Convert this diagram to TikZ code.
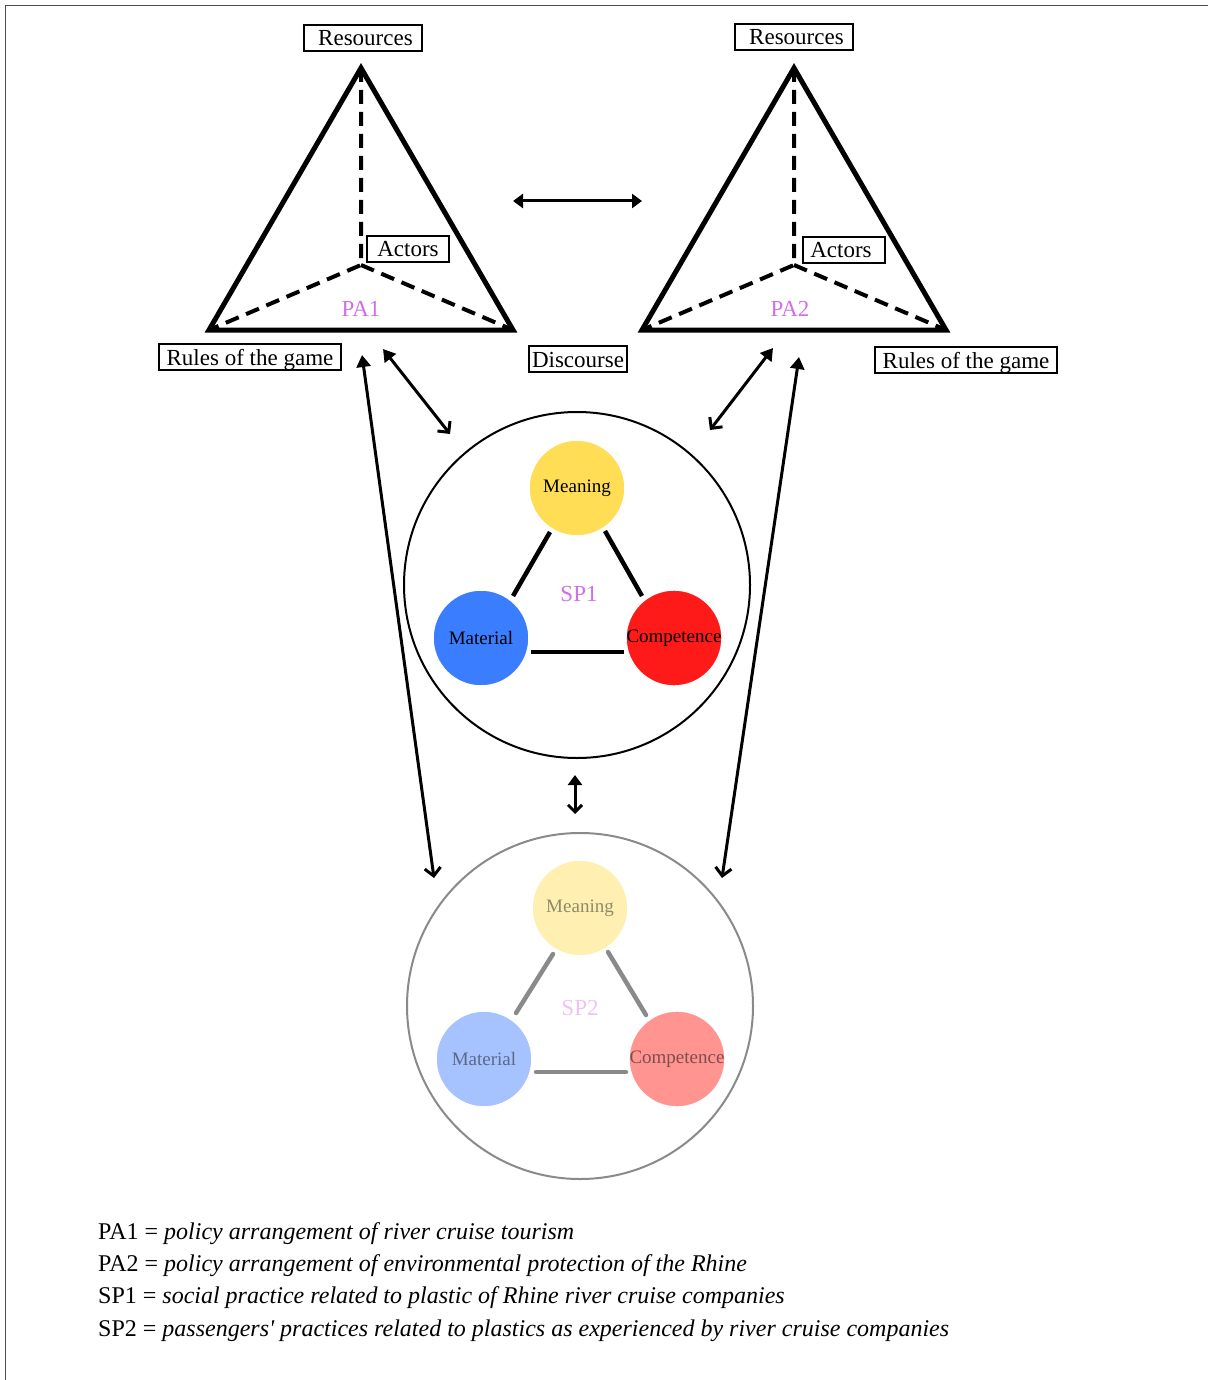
\documentclass[tikz,border=0pt]{standalone}
\usepackage{fontspec}
\setmainfont{Liberation Serif}
\usetikzlibrary{arrows.meta}
\definecolor{pacol}{HTML}{D070E8}
\definecolor{spcol}{HTML}{D070E8}
\definecolor{sp2col}{HTML}{EEC2F6}
\definecolor{meanc}{HTML}{FFDD55}
\definecolor{matc}{HTML}{3B7DFF}
\definecolor{compc}{HTML}{FF1A1A}
\definecolor{meanp}{HTML}{FFF0B2}
\definecolor{matp}{HTML}{A6C3FF}
\definecolor{compp}{HTML}{FF9490}
\definecolor{greyl}{HTML}{8A8A8A}
\tikzset{
  lbl/.style={draw, line width=1.3pt, inner sep=0pt, minimum height=26pt, font=\fontsize{23}{23}\selectfont, text depth=2pt, text height=18pt},
  tri/.style={line width=5pt, line join=miter},
  tridash/.style={line width=4pt, dash pattern=on 14pt off 8pt},
  elem/.style={circle, minimum size=96pt, inner sep=0pt, draw=white, line width=1.5pt, font=\fontsize{19}{19}\selectfont},
  conn/.style={line width=4.5pt},
  conn2/.style={line width=4.5pt, greyl},
  arr/.style={line width=3pt, {Triangle[length=12pt,width=14pt]}-{Straight Barb[length=8pt,width=16pt,line width=3pt]}},
  arrh/.style={line width=3pt, {Triangle[length=10pt,width=14pt]}-{Triangle[length=10pt,width=14pt]}},
  tag/.style={font=\fontsize{23}{23}\selectfont},
  leg/.style={anchor=base west, font=\fontsize{24}{24}\selectfont, inner sep=0pt}
}
\begin{document}
\begin{tikzpicture}[x=1pt,y=-1pt]
\useasboundingbox (0,0) rectangle (1208,1380);
\draw[line width=1.2pt, black!70] (1208,5.5) -- (5.5,5.5) -- (5.5,1380);

% ---------- PA1 ----------
\coordinate (a1t) at (361,68);
\coordinate (a1l) at (209,330);
\coordinate (a1r) at (513,330);
\coordinate (a1c) at (361,265);
\draw[tridash] (a1t) -- (a1c) -- (a1l);
\draw[tridash] (a1c) -- (a1r);
\draw[tri] (a1t) -- (a1l) -- (a1r) -- cycle;
\node[tag, text=pacol] (pa1) at (361,309) {PA1};
\node[lbl, minimum width=118pt] (res1) at (363,38) {\hspace{5pt}Resources};
\node[lbl, minimum width=82pt] (act1) at (408,249) {Actors};
\node[lbl, minimum width=182pt] (rul1) at (250,357) {Rules of the game};
\node[lbl, minimum width=98pt] (dis1) at (578,359) {Discourse};

% ---------- PA2 ----------
\coordinate (a2t) at (794,68);
\coordinate (a2l) at (642,330);
\coordinate (a2r) at (946,330);
\coordinate (a2c) at (794,265);
\draw[tridash] (a2t) -- (a2c) -- (a2l);
\draw[tridash] (a2c) -- (a2r);
\draw[tri] (a2t) -- (a2l) -- (a2r) -- cycle;
\node[tag, text=pacol] (pa2) at (790,309) {PA2};
\node[lbl, minimum width=118pt] (res2) at (794,37) {\hspace{5pt}Resources};
\node[lbl, minimum width=82pt] (act2) at (844,250) {\hspace{-6pt}Actors};
\node[lbl, minimum width=182pt] (rul2) at (966,360) {Rules of the game};

% ---------- SP1 ----------
\node[circle, draw, line width=2pt, minimum size=346pt, inner sep=0pt] (sp1) at (577,585) {};
\node[elem, fill=meanc] (m1) at (577,488) {Meaning};
\node[elem, fill=matc] (t1) at (481,638) {Material};
\node[elem, fill=compc] (c1) at (674,638) {Competence};
\node[tag, text=spcol] (sp1l) at (579,594) {SP1};
\draw[conn] (550,532) -- (513,596);
\draw[conn] (605,531) -- (642,596);
\draw[conn] (531,652) -- (624,652);

% ---------- SP2 ----------
\node[circle, draw=greyl, line width=2pt, minimum size=346pt, inner sep=0pt] (sp2) at (580,1006) {};
\node[elem, fill=meanp, text={rgb,255:red,143;green,138;blue,106}] (m2) at (580,908) {Meaning};
\node[elem, fill=matp, text={rgb,255:red,92;green,104;blue,136}] (t2) at (484,1059) {Material};
\node[elem, fill=compp, text={rgb,255:red,126;green,78;blue,78}] (c2) at (677,1059) {Competence};
\node[tag, text=sp2col] (sp2l) at (580,1008) {SP2};
\draw[conn2, line cap=round] (553,954) -- (516,1013);
\draw[conn2, line cap=round] (608,952) -- (646,1015);
\draw[conn2, line cap=round] (536,1072) -- (626,1072);

% ---------- arrows ----------
\coordinate (h1) at (513,201);
\coordinate (h2) at (642,201);
\draw[arrh] (h1) -- (h2);
\coordinate (p1a) at (383,349);
\coordinate (p1b) at (450,434);
\draw[arr] (p1a) -- (p1b);
\coordinate (p1c) at (362,355);
\coordinate (p1d) at (434,878);
\draw[arr] (p1c) -- (p1d);
\coordinate (p2a) at (773,348);
\coordinate (p2b) at (710,430);
\draw[arr] (p2a) -- (p2b);
\coordinate (p2c) at (799,357);
\coordinate (p2d) at (722,878);
\draw[arr] (p2c) -- (p2d);
\coordinate (v1) at (575,775);
\coordinate (v2) at (575,814);
\draw[line width=3pt, {Triangle[length=10pt,width=14pt]}-{Straight Barb[length=7pt,width=14pt,line width=3pt]}] (v1) -- (v2);

% ---------- legend ----------
\node[leg] (l1) at (98,1239) {PA1 = \textit{policy arrangement of river cruise tourism}};
\node[leg] (l2) at (98,1271) {PA2 = \textit{policy arrangement of environmental protection of the Rhine}};
\node[leg] (l3) at (98,1303) {SP1 = \textit{social practice related to plastic of Rhine river cruise companies}};
\node[leg] (l4) at (98,1336) {SP2 = \textit{passengers\textquotesingle\ practices related to plastics as experienced by river cruise companies}};
\end{tikzpicture}
\end{document}
